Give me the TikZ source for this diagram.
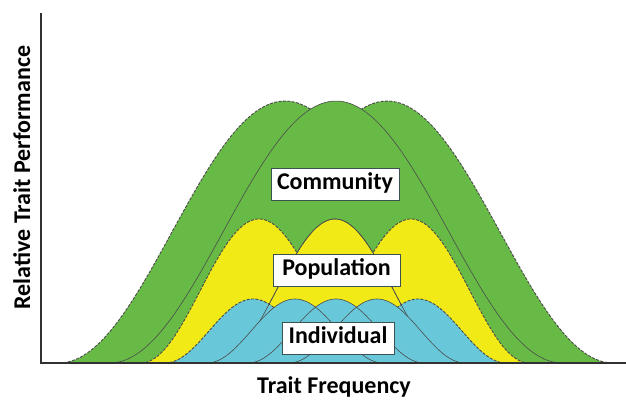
\documentclass[tikz,border=0pt]{standalone}
\usepackage{fontspec}
\setmainfont{Carlito}
\usepackage{tikz}
\definecolor{commgreen}{RGB}{104,186,70}
\definecolor{popyellow}{RGB}{242,234,22}
\definecolor{indblue}{RGB}{104,200,217}
\definecolor{linegray}{RGB}{75,75,75}
\definecolor{boxedge}{RGB}{60,82,82}
\definecolor{axisgray}{RGB}{50,50,50}
\tikzstyle{envelope}=[draw=linegray, line width=0.9pt, dash pattern=on 3pt off 1.4pt]
\tikzstyle{inner}=[draw=linegray, line width=0.6pt]
\tikzstyle{axis}=[draw=axisgray, line width=1.6pt, line join=miter]
\tikzstyle{levelbox}=[draw=boxedge, fill=white, line width=0.8pt, font=\fontsize{24}{28}\selectfont\bfseries, inner xsep=0pt, minimum height=32pt, text height=15.5pt, text depth=5pt]
\tikzstyle{axislabel}=[font=\fontsize{24}{28}\selectfont\bfseries, inner sep=0pt]
\newcommand{\bell}[3]{plot[domain={#1-#2}:{#1+#2}, samples=100] (\x,{#3*(1+cos((\x-#1)/#2*180))/2})}

\begin{document}
\begin{tikzpicture}[x=1pt, y=1pt]
  \useasboundingbox (0,-36) rectangle (626,363);
  % community
  \filldraw[fill=commgreen, envelope] \bell{285}{226}{262} -- cycle;
  \filldraw[fill=commgreen, envelope] \bell{387}{226}{262} -- cycle;
  \filldraw[fill=commgreen, inner] \bell{336}{226}{262} -- cycle;
  % population
  \filldraw[fill=popyellow, envelope] \bell{259}{118}{144} -- cycle;
  \filldraw[fill=popyellow, envelope] \bell{411}{118}{144} -- cycle;
  \filldraw[fill=popyellow, inner] \bell{335}{118}{144} -- cycle;
  % individual
  \filldraw[fill=indblue, envelope] \bell{253}{88}{64} -- cycle;
  \filldraw[fill=indblue, envelope] \bell{418}{88}{64} -- cycle;
  \draw[inner] \bell{335}{118}{144};
  \foreach \c in {295,336,377}
    \fill[indblue] \bell{\c}{88}{64} -- cycle;
  \foreach \c in {295,336,377}
    \draw[inner] \bell{\c}{88}{64};
  % axes
  \coordinate (origin) at (41,0);
  \coordinate (ytop) at (41,350);
  \coordinate (xend) at (626,0);
  \draw[axis] (ytop) -- (origin) -- (xend);
  % labels
  \node[levelbox, minimum width=128pt] (community) at (335,179) {Community};
  \node[levelbox, minimum width=127pt] (population) at (336.5,93) {Population};
  \node[levelbox, minimum width=112pt] (individual) at (338,24.5) {Individual};
  \node[axislabel, anchor=base] (xlabel) at (334,-30) {Trait Frequency};
  \node[axislabel, rotate=90, anchor=base] (ylabel) at (30,185.5) {Relative Trait Performance};
\end{tikzpicture}
\end{document}
